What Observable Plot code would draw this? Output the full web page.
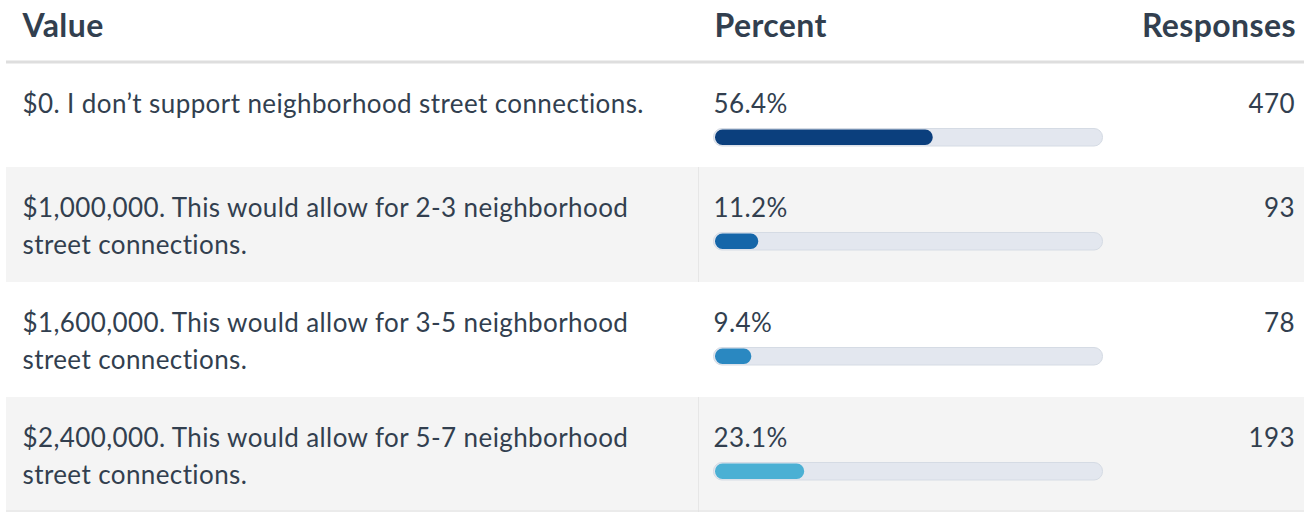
<!DOCTYPE html>
<html><head><meta charset="utf-8">
<script src="https://cdn.jsdelivr.net/npm/d3@7"></script>
<script src="https://cdn.jsdelivr.net/npm/@observablehq/plot@0.6"></script>
<style>html,body{margin:0;padding:0;background:#fff;overflow:hidden}</style>
</head><body><div id="chart"></div>
<script>
// ---- data ----
const headers = ["Value", "Percent", "Responses"];
const labels = [
  "$0. I don’t support neighborhood street connections.",
  "$1,000,000. This would allow for 2-3 neighborhood street connections.",
  "$1,600,000. This would allow for 3-5 neighborhood street connections.",
  "$2,400,000. This would allow for 5-7 neighborhood street connections."
];
const percents = [56.4, 11.2, 9.4, 23.1];
const responses = [470, 93, 78, 193];
const barColors = ["#0b3f7d", "#1566a9", "#2a88c1", "#4bb0d4"];

// ---- layout ----
const FONT = "Lato, 'Noto Sans', sans-serif";
const FS = 26;
const LS = 0.4;   // body letter spacing
const HLS = 1.5;  // header letter spacing
const TEXT = "#323f4f";
const TRACK_L = 715, TRACK_R = 1101;
const P = px => (px - TRACK_L) / (TRACK_R - TRACK_L) * 100; // pixel -> x-scale units

const ctx = document.createElement("canvas").getContext("2d");
ctx.font = `${FS}px ${FONT}`;
const measure = s => ctx.measureText(s).width + s.length * LS;
function wrap(s, max) {
  const words = s.split(" "), lines = [];
  let cur = "";
  for (const w of words) {
    const t = cur ? cur + " " + w : w;
    if (measure(t) > max && cur) { lines.push(cur); cur = w; }
    else cur = t;
  }
  lines.push(cur);
  return lines;
}

let rowTop = 63;
const rows = labels.map((label, i) => {
  const lines = wrap(label, 650);
  const h = lines.length === 1 ? 104 : 115;
  const r = {i, label, lines, pct: percents[i], resp: responses[i], top: rowTop, bottom: rowTop + h};
  rowTop += h;
  return r;
});
const lineRows = rows.flatMap(r => r.lines.map((t, j) => ({t, y: r.top + 49 + j * 37})));
const grayRows = rows.filter(r => r.i % 2 === 1);

const chart = Plot.plot({
  width: 1310, height: 512,
  marginTop: 0, marginRight: 0, marginBottom: 0, marginLeft: 0,
  style: {fontFamily: FONT, background: "#fff", color: TEXT, letterSpacing: LS + "px"},
  x: {domain: [0, 100], range: [TRACK_L, TRACK_R], axis: null},
  y: {type: "identity"},
  color: {domain: labels, range: barColors},
  marks: [
    Plot.rect(grayRows, {x1: () => P(6), x2: () => P(1304), y1: "top", y2: "bottom", fill: "#f4f4f4"}),
    Plot.ruleX(grayRows, {x: () => P(698), y1: "top", y2: "bottom", stroke: "#e6e6e6", strokeWidth: 1}),
    Plot.ruleY([61.5], {x1: () => P(6), x2: () => P(1304), stroke: "#dedede", strokeWidth: 3}),
    Plot.ruleY([510.5], {x1: () => P(6), x2: () => P(1304), stroke: "#e2e2e2", strokeWidth: 1}),
    Plot.text(headers.slice(0, 2), {x: (d, i) => P([22, 714][i]), y: () => 36, text: d => d,
      textAnchor: "start", lineAnchor: "bottom", fontSize: 32, fontWeight: 700, fill: TEXT, ariaLabel: "header"}),
    Plot.text(headers.slice(2), {x: () => P(1294), y: () => 36, text: d => d, dx: HLS,
      textAnchor: "end", lineAnchor: "bottom", fontSize: 32, fontWeight: 700, fill: TEXT, ariaLabel: "header"}),
    Plot.text(lineRows, {x: () => P(22), y: "y", text: "t", textAnchor: "start", lineAnchor: "bottom",
      fontSize: FS, fill: TEXT}),
    Plot.text(rows, {x: () => 0, y: d => d.top + 49, text: d => d.pct.toFixed(1) + "%", dx: -2,
      textAnchor: "start", lineAnchor: "bottom", fontSize: FS, fill: TEXT}),
    Plot.text(rows, {x: () => P(1294), y: d => d.top + 49, text: d => String(d.resp), dx: LS,
      textAnchor: "end", lineAnchor: "bottom", fontSize: FS, fill: TEXT}),
    Plot.rect(rows, {x1: () => 0, x2: () => 100, y1: d => d.top + 65.5, y2: d => d.top + 83,
      insetLeft: -1.5, insetRight: -1.5, rx: 8.5, fill: "#e3e7ef", stroke: "#d5dbe4", strokeWidth: 1}),
    Plot.rect(rows, {x1: () => 0, x2: "pct", y1: d => d.top + 66.5, y2: d => d.top + 82,
      rx: 7.5, fill: "label"})
  ]
});
d3.select(chart).selectAll("g[aria-label='header'] text").attr("letter-spacing", HLS + "px");
document.getElementById("chart").append(chart);
</script>
</body></html>
